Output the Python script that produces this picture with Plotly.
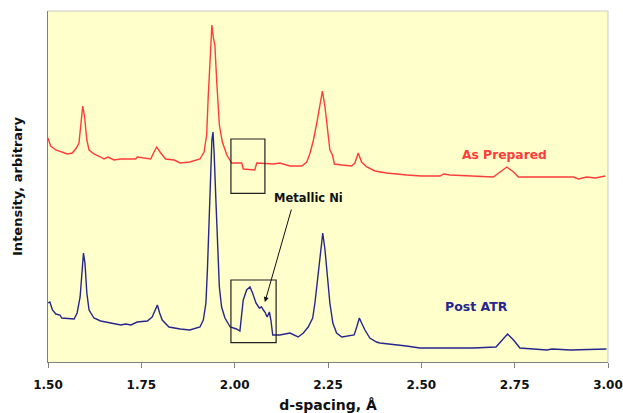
import plotly.graph_objects as go

# d-spacing (Å) and relative intensity (arbitrary units)
prep_d = [1.500, 1.507, 1.521, 1.538, 1.552, 1.565, 1.576, 1.583, 1.588, 1.593, 1.598, 1.604, 1.610,
          1.623, 1.641, 1.650, 1.661, 1.677, 1.695, 1.735, 1.739, 1.775, 1.784, 1.791, 1.802, 1.815,
          1.838, 1.854, 1.880, 1.907, 1.918, 1.925, 1.929, 1.934, 1.937, 1.939, 1.943, 1.947, 1.952,
          1.959, 1.967, 1.979, 1.992, 2.019, 2.023, 2.054, 2.059, 2.104, 2.121, 2.148, 2.180, 2.193,
          2.202, 2.211, 2.220, 2.227, 2.235, 2.242, 2.248, 2.255, 2.262, 2.267, 2.287, 2.313, 2.322,
          2.331, 2.340, 2.354, 2.376, 2.389, 2.407, 2.461, 2.500, 2.550, 2.560, 2.577, 2.620, 2.693,
          2.711, 2.729, 2.747, 2.760, 2.907, 2.921, 2.943, 2.966, 2.993]
prep_i = [224, 216, 212, 210, 208, 209, 214, 219, 239, 256, 245, 222, 212,
          208, 205, 203, 205, 202, 203, 203, 205, 203, 210, 215, 209, 203,
          202, 199, 200, 203, 210, 227, 264, 307, 327, 337, 324, 317, 280,
          237, 220, 207, 199, 199, 193, 192, 199, 198, 199, 196, 196, 200,
          209, 222, 239, 255, 271, 255, 232, 212, 207, 198, 197, 196, 199,
          209, 200, 195, 191, 190, 189, 187, 186, 186, 188, 187, 186, 185,
          190, 195, 190, 185, 185, 183, 185, 184, 186]

post_d = [1.500, 1.505, 1.512, 1.521, 1.532, 1.537, 1.570, 1.578, 1.586, 1.590, 1.595, 1.599, 1.604,
          1.610, 1.623, 1.641, 1.668, 1.695, 1.708, 1.722, 1.739, 1.766, 1.779, 1.787, 1.793, 1.799,
          1.806, 1.824, 1.838, 1.854, 1.880, 1.907, 1.916, 1.923, 1.927, 1.931, 1.936, 1.939, 1.942,
          1.945, 1.950, 1.955, 1.959, 1.965, 1.974, 1.988, 2.005, 2.014, 2.019, 2.023, 2.032, 2.041,
          2.048, 2.057, 2.066, 2.072, 2.077, 2.081, 2.087, 2.093, 2.097, 2.102, 2.121, 2.148, 2.170,
          2.184, 2.197, 2.209, 2.215, 2.221, 2.229, 2.236, 2.242, 2.248, 2.255, 2.263, 2.273, 2.287,
          2.304, 2.320, 2.327, 2.334, 2.340, 2.349, 2.362, 2.380, 2.389, 2.420, 2.443, 2.460, 2.496,
          2.550, 2.600, 2.639, 2.700, 2.716, 2.731, 2.747, 2.764, 2.800, 2.836, 2.850, 2.900, 2.996]
post_i = [59, 60, 52, 48, 47, 44, 43, 49, 65, 89, 109, 99, 69,
          52, 44, 41, 39, 37, 38, 37, 40, 41, 45, 51, 57, 49,
          42, 35, 34, 33, 32, 35, 42, 59, 92, 142, 192, 222, 230,
          209, 159, 109, 75, 55, 44, 35, 33, 31, 49, 62, 72, 75,
          69, 59, 54, 55, 52, 50, 45, 50, 42, 27, 27, 29, 25,
          29, 35, 44, 59, 79, 105, 129, 112, 85, 59, 39, 29, 25,
          26, 27, 35, 44, 39, 32, 24, 20, 19, 18, 17, 16, 14,
          14, 14, 14, 15, 22, 28, 22, 14, 13, 12, 13, 12, 13]

x_ticks = [1.50, 1.75, 2.00, 2.25, 2.50, 2.75, 3.00]
x_tick_labels = ["1.50", "1.75", "2.00", "2.25", "2.50", "2.75", "3.00"]

RED = "#FF3B3B"
BLUE = "#26268C"
FONT = "DejaVu Sans, sans-serif"

fig = go.Figure()
fig.add_trace(go.Scatter(x=prep_d, y=prep_i, mode="lines", line=dict(color=RED, width=1.4),
                         name="As Prepared", showlegend=False))
fig.add_trace(go.Scatter(x=post_d, y=post_i, mode="lines", line=dict(color=BLUE, width=1.4),
                         name="Post ATR", showlegend=False))

# boxes highlighting the Ni region
fig.add_shape(type="rect", x0=1.990, x1=2.081, y0=168.7, y1=223, line=dict(color="#202020", width=1.2))
fig.add_shape(type="rect", x0=1.990, x1=2.111, y0=19.3, y1=82, line=dict(color="#202020", width=1.2))

fig.add_annotation(x=2.724, y=207, text="<b>As Prepared</b>", showarrow=False,
                   font=dict(family=FONT, size=12.3, color=RED))
fig.add_annotation(x=2.648, y=56, text="<b>Post ATR</b>", showarrow=False,
                   font=dict(family=FONT, size=12.5, color=BLUE))
fig.add_annotation(x=2.199, y=164, text="<b>Metallic Ni</b>", showarrow=False,
                   font=dict(family=FONT, size=11.5, color="#111111"))
fig.add_annotation(x=2.081, y=60, ax=2.153, ay=154, axref="x", ayref="y", text="",
                   showarrow=True, arrowhead=2, arrowsize=1, arrowwidth=1, arrowcolor="#111111")

fig.update_layout(
    width=623, height=413,
    margin=dict(l=48, r=15, t=11, b=51, autoexpand=False),
    paper_bgcolor="white",
    plot_bgcolor="#FFFFCC",
    font=dict(family=FONT, color="black"),
    xaxis=dict(range=[1.5, 3.0], tickvals=x_ticks, ticktext=x_tick_labels, automargin=False,
               ticks="outside", ticklen=5, tickcolor="#808080", showgrid=False, zeroline=False,
               showline=True, linecolor="#808080", linewidth=1, mirror=False, ticklabelstandoff=7,
               tickfont=dict(size=12, family=FONT, color="#111111", weight="bold"),
               title=dict(text="d-spacing, Å", font=dict(size=14, family=FONT, color="#111111", weight="bold"),
                          standoff=8)),
    yaxis=dict(range=[0, 351], showticklabels=False, ticks="", showgrid=False, zeroline=False,
               showline=True, linecolor="#808080", linewidth=1, automargin=False,
               title=dict(text="Intensity, arbitrary", font=dict(size=13, family=FONT, color="#111111", weight="bold"),
                          standoff=21)),
)
# light border on top/right of plot area
fig.add_shape(type="line", xref="paper", yref="paper", x0=0, x1=1, y0=1, y1=1,
              line=dict(color="#C8C8C8", width=1))
fig.add_shape(type="line", xref="paper", yref="paper", x0=1, x1=1, y0=0, y1=1,
              line=dict(color="#C8C8C8", width=1))

fig.write_html("out.html")
